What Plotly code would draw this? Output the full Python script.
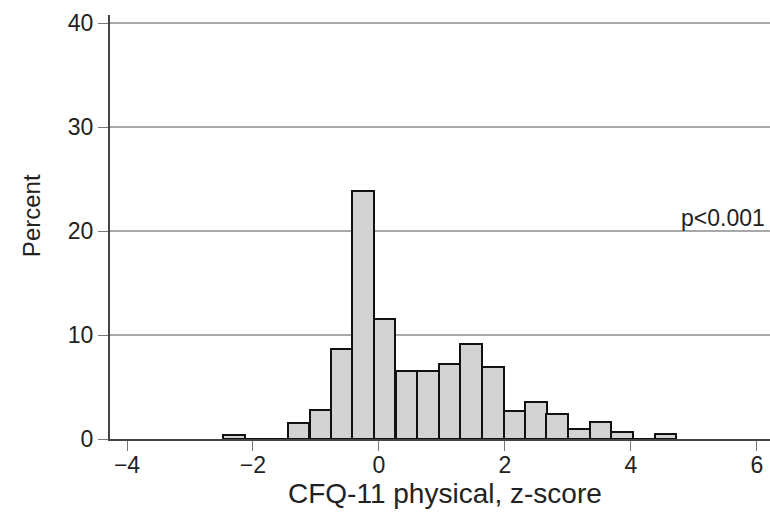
import plotly.graph_objects as go

# Histogram bins (centers, z-score) and percent per bin
bin_centers = [-2.30, -1.96, -1.62, -1.28, -0.93, -0.59, -0.25, 0.09, 0.44, 0.78,
               1.12, 1.46, 1.81, 2.15, 2.49, 2.83, 3.18, 3.52, 3.86, 4.20, 4.55]
bin_width = 0.3425
percent = [0.4, 0, 0, 1.55, 2.75, 8.7, 23.85, 11.55, 6.5, 6.5,
           7.25, 9.1, 6.9, 2.65, 3.6, 2.4, 1.0, 1.6, 0.7, 0, 0.45]

x_ticks = [-4, -2, 0, 2, 4, 6]
x_tick_labels = ["\u22124", "\u22122", "0", "2", "4", "6"]
y_ticks = [0, 10, 20, 30, 40]

FONT = "Liberation Sans, Arial, sans-serif"
TXT = "#222222"

fig = go.Figure()
fig.add_trace(go.Bar(
    x=bin_centers, y=percent, width=bin_width,
    marker=dict(color="#d3d3d3", line=dict(color="#111111", width=2)),
    hoverinfo="x+y",
))

fig.add_annotation(
    x=1.0, xref="paper", y=20, yref="y",
    text="p<0.001", showarrow=False,
    xanchor="right", yanchor="bottom", xshift=-3, yshift=-2,
    font=dict(family=FONT, size=23, color=TXT),
)
# axis titles
fig.add_annotation(
    x=0.5076, xref="paper", y=-0.1297, yref="paper",
    text="CFQ-11 physical, z-score", showarrow=False,
    xanchor="center", yanchor="middle",
    font=dict(family=FONT, size=28, color=TXT),
)
fig.add_annotation(
    x=-0.1197, xref="paper", y=0.528, yref="paper",
    text="Percent", showarrow=False, textangle=-90,
    xanchor="center", yanchor="middle",
    font=dict(family=FONT, size=24, color=TXT),
)

fig.update_layout(
    width=770, height=518,
    margin=dict(l=110, r=0, t=15, b=79),
    paper_bgcolor="white", plot_bgcolor="white",
    showlegend=False,
    bargap=0,
    font=dict(family=FONT, color=TXT),
    xaxis=dict(
        range=[-4.27, 6.21], automargin=False,
        tickvals=x_ticks, ticktext=x_tick_labels,
        tickfont=dict(size=23, color=TXT),
        ticks="outside", ticklen=10, tickwidth=1, tickcolor="#777777",
        ticklabelstandoff=-6,
        showline=True, linecolor="#444444", linewidth=2,
        showgrid=False, zeroline=False,
    ),
    yaxis=dict(
        range=[0, 40.8], automargin=False,
        tickvals=y_ticks,
        tickfont=dict(size=23, color=TXT),
        ticks="outside", ticklen=10, tickwidth=1, tickcolor="#777777",
        showline=True, linecolor="#444444", linewidth=2,
        showgrid=True, gridcolor="#a8a8a8", gridwidth=1.5,
        zeroline=False,
    ),
)

fig.write_html("out.html", config={"displayModeBar": False},
               post_script="document.body.style.margin='0px';")
